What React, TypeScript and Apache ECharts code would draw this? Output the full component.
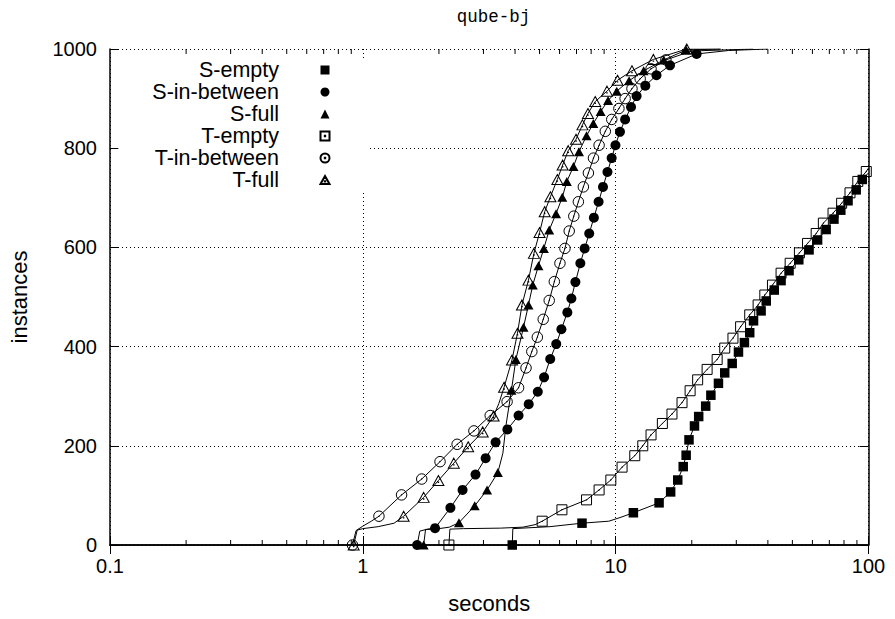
import { useEffect, useRef } from 'react';
import * as echarts from 'echarts';

type Pt = [number, number];

const FONT = 'Liberation Sans, Arial, Helvetica, sans-serif';

const seriesNames = ['S-empty', 'S-in-between', 'S-full', 'T-empty', 'T-in-between', 'T-full'];

// Minor ticks of the logarithmic seconds axis (2..9 in each decade)
const xMinorTicks = [
  0.2, 0.3, 0.4, 0.5, 0.6, 0.7, 0.8, 0.9,
  2, 3, 4, 5, 6, 7, 8, 9,
  20, 30, 40, 50, 60, 70, 80, 90,
];

// Marker points (seconds, instances) per configuration
const sEmptyPoints: Pt[] = [
  [3.9, 0], [7.36, 44], [11.75, 65], [14.85, 85], [16.5, 107], [17.6, 131], [18.5, 158],
  [19.0, 181], [19.5, 212], [20.5, 240], [21.3, 259], [22.7, 280], [23.8, 302], [25.5, 326],
  [27.0, 347], [28.9, 366], [30.6, 389], [32.3, 408], [33.9, 428], [35.1, 452], [37.6, 472],
  [39.4, 492], [42.4, 514], [45.1, 533], [48.5, 553], [53.0, 575], [58.2, 595], [62.9, 615],
  [68.0, 636], [73.0, 657], [77.7, 675], [83.0, 694], [89.4, 716], [94.5, 737],
];
const sInBetweenPoints: Pt[] = [
  [1.64, 0], [1.93, 34], [2.22, 75], [2.48, 111], [2.79, 142], [3.06, 175], [3.35, 207],
  [3.73, 233], [4.13, 261], [4.53, 284], [4.92, 309], [5.21, 338], [5.51, 375], [5.82, 405],
  [6.1, 435], [6.44, 469], [6.68, 497], [6.93, 530], [7.25, 568], [7.54, 598], [7.86, 628],
  [8.2, 660], [8.56, 692], [8.91, 722], [9.28, 752], [9.64, 780], [9.98, 806], [10.4, 833],
  [10.9, 858], [11.5, 883], [12.1, 905], [13.1, 926], [14.5, 947], [16.4, 967], [20.9, 990],
];
const sFullPoints: Pt[] = [
  [1.74, 0], [2.4, 45], [2.77, 79], [3.1, 111], [3.42, 146], [3.87, 312], [4.03, 374],
  [4.32, 439], [4.52, 484], [4.7, 524], [4.95, 563], [5.2, 598], [5.46, 635], [5.81, 668],
  [6.15, 701], [6.41, 733], [6.81, 763], [7.16, 793], [7.67, 825], [8.16, 850], [8.72, 874],
  [9.33, 896], [10.1, 915], [11.3, 936], [12.9, 956], [15.5, 978], [19.0, 998],
];
const tEmptyPoints: Pt[] = [
  [2.19, 0], [5.12, 48], [6.13, 71], [7.67, 91], [8.6, 111], [9.57, 131], [10.6, 157],
  [11.9, 180], [12.8, 200], [13.8, 222], [15.3, 245], [16.7, 264], [18.3, 287], [19.7, 311],
  [21.1, 333], [23.0, 354], [25.2, 374], [27.0, 397], [29.1, 417], [31.2, 440], [33.9, 464],
  [36.6, 484], [38.9, 504], [41.7, 524], [45.1, 548], [49.0, 568], [53.3, 589], [57.4, 608],
  [62.1, 628], [66.3, 649], [72.4, 669], [78.3, 689], [84.5, 710], [90.7, 733], [98.0, 753],
];
const tInBetweenPoints: Pt[] = [
  [0.91, 0], [1.158, 58], [1.423, 101], [1.71, 133], [2.02, 168], [2.36, 203], [2.75, 230],
  [3.19, 261], [3.72, 289], [4.13, 317], [4.42, 357], [4.66, 390], [4.9, 419], [5.17, 455],
  [5.46, 493], [5.72, 531], [6.02, 568], [6.3, 598], [6.55, 633], [6.83, 663], [7.12, 692],
  [7.45, 722], [7.8, 750], [8.17, 780], [8.6, 806], [9.1, 834], [9.65, 858], [10.3, 880],
  [10.9, 900], [11.6, 920], [12.5, 940], [13.8, 960], [15.8, 978],
];
const tFullPoints: Pt[] = [
  [0.92, 0], [1.45, 58], [1.74, 96], [1.99, 130], [2.29, 165], [2.61, 198], [2.98, 228],
  [3.29, 260], [3.62, 318], [3.89, 373], [4.09, 427], [4.26, 484], [4.52, 534], [4.75, 588],
  [5.0, 630], [5.24, 672], [5.52, 702], [5.88, 737], [6.17, 766], [6.49, 795], [6.97, 818],
  [7.39, 847], [7.77, 870], [8.3, 894], [9.24, 915], [10.17, 937], [11.6, 956], [14.1, 979],
  [19.1, 1000],
];

// Extra points of the smoothed curves between markers (jumps, plateaus, tails)
const sEmptyBends: Pt[] = [[3.92, 33], [5.5, 37], [9.4, 48], [10.5, 56], [100, 750]];
const sInBetweenBends: Pt[] = [[1.68, 28], [1.8, 32], [28, 997], [40, 1000]];
const sFullBends: Pt[] = [[1.77, 31], [2.0, 33], [2.2, 36], [3.58, 185], [3.68, 240], [26, 1000]];
const tEmptyBends: Pt[] = [[2.21, 32], [2.5, 33], [3.5, 34], [4.3, 36], [4.8, 41], [100, 760]];
const tInBetweenBends: Pt[] = [[0.94, 29], [1.0, 38], [1.08, 48], [20, 996], [35, 1000]];
const tFullBends: Pt[] = [[0.95, 30], [1.0, 33], [1.15, 37], [1.33, 44], [3.45, 285], [26, 1000]];

const markerSets: Pt[][] = [sEmptyPoints, sInBetweenPoints, sFullPoints, tEmptyPoints, tInBetweenPoints, tFullPoints];
const bendSets: Pt[][] = [sEmptyBends, sInBetweenBends, sFullBends, tEmptyBends, tInBetweenBends, tFullBends];

// Open symbols with a centre dot
const OPEN_SQUARE = 'path://M0,0H10V10H0Z M4.8,4.8H5.2V5.2H4.8Z';
const OPEN_CIRCLE = 'path://M0,5A5,5,0,1,1,10,5A5,5,0,1,1,0,5Z M4.8,4.8H5.2V5.2H4.8Z';
const OPEN_TRIANGLE = 'path://M5,0L10,9L0,9Z M4.8,5.8H5.2V6.2H4.8Z';

const markerStyles = [
  { symbol: 'rect', size: [9.5, 9.5], filled: true },
  { symbol: 'circle', size: [10, 10], filled: true },
  { symbol: 'triangle', size: [10, 9], filled: true },
  { symbol: OPEN_SQUARE, size: [10, 10], filled: false },
  { symbol: OPEN_CIRCLE, size: [10.5, 10.5], filled: false },
  { symbol: OPEN_TRIANGLE, size: [11, 10], filled: false },
];

function curveOf(points: Pt[], bends: Pt[]): Pt[] {
  return [...points, ...bends].sort((a, b) => a[1] - b[1] || a[0] - b[0]);
}

function buildOption() {
  const axisLine = { lineStyle: { color: '#000', width: 1.5 } };
  const axisTick = { inside: true, length: 9, lineStyle: { color: '#000', width: 1 } };
  const labelStyle = { color: '#000', fontSize: 20, fontFamily: FONT };
  const nameStyle = { color: '#000', fontSize: 22, fontFamily: FONT };
  const gridLine = { show: true, lineStyle: { type: [1, 3], color: '#000', width: 1 } };

  const curves = seriesNames.map((name, i) => ({
    name: `${name} curve`,
    type: 'line',
    data: curveOf(markerSets[i], bendSets[i]),
    showSymbol: false,
    symbol: 'none',
    lineStyle: { color: '#000', width: 1 },
    silent: true,
    z: 2,
  }));

  const markers = seriesNames.map((name, i) => {
    const m = markerStyles[i];
    return {
      name,
      type: 'scatter',
      data: markerSets[i],
      symbol: m.symbol,
      symbolSize: m.size,
      itemStyle: m.filled
        ? { color: '#000', opacity: 1 }
        : { color: 'rgba(0,0,0,0)', borderColor: '#000', borderWidth: 1, opacity: 1 },
      emphasis: { disabled: true },
      silent: true,
      z: 3,
    };
  });

  const minorTicks = {
    name: 'minor ticks',
    type: 'custom',
    data: xMinorTicks.map((v) => [v, 0]),
    silent: true,
    clip: false,
    z: 4,
    renderItem: (_params: any, api: any) => {
      const v = api.value(0);
      const b = api.coord([v, 0]);
      const t = api.coord([v, 1000]);
      const style = { stroke: '#000', lineWidth: 1 };
      return {
        type: 'group',
        children: [
          { type: 'line', shape: { x1: b[0], y1: b[1], x2: b[0], y2: b[1] - 5 }, style },
          { type: 'line', shape: { x1: t[0], y1: t[1], x2: t[0], y2: t[1] + 5 }, style },
        ],
      };
    },
  };

  return {
    animation: false,
    backgroundColor: '#fff',
    title: {
      text: 'qube-bj',
      left: 488.5,
      top: 3,
      textAlign: 'center',
      textStyle: { fontFamily: 'Liberation Mono, monospace', fontSize: 17.5, fontWeight: 'normal', color: '#000' },
    },
    grid: { left: 108.5, right: 26.5, top: 49, bottom: 74 },
    legend: {
      data: seriesNames,
      orient: 'vertical',
      align: 'right',
      right: 525,
      top: 58,
      padding: [1, 39.5, 0, 34],
      itemGap: 0,
      itemWidth: 9,
      itemHeight: 9,
      backgroundColor: '#fff',
      selectedMode: false,
      textStyle: { fontFamily: FONT, fontSize: 21.5, color: '#000', lineHeight: 21.7, padding: [0, 36.5, 0, 0] },
    },
    xAxis: [
      {
        type: 'log',
        logBase: 10,
        min: 0.1,
        max: 100,
        position: 'bottom',
        name: 'seconds',
        nameLocation: 'middle',
        nameGap: 47,
        nameTextStyle: nameStyle,
        axisLine,
        axisTick,
        axisLabel: { ...labelStyle, margin: 11 },
        splitLine: gridLine,
      },
      {
        type: 'log',
        logBase: 10,
        min: 0.1,
        max: 100,
        position: 'top',
        axisLine,
        axisTick,
        axisLabel: { show: false },
        splitLine: { show: false },
      },
    ],
    yAxis: [
      {
        type: 'value',
        min: 0,
        max: 1000,
        interval: 200,
        position: 'left',
        name: 'instances',
        nameLocation: 'middle',
        nameGap: 80,
        nameTextStyle: nameStyle,
        axisLine,
        axisTick,
        axisLabel: { ...labelStyle, margin: 13, formatter: (v: number) => String(v) },
        splitLine: gridLine,
      },
      {
        type: 'value',
        min: 0,
        max: 1000,
        interval: 200,
        position: 'right',
        axisLine,
        axisTick,
        axisLabel: { show: false },
        splitLine: { show: false },
      },
    ],
    series: [...curves, ...markers, minorTicks],
  };
}

export default function App() {
  const ref = useRef<HTMLDivElement>(null);
  useEffect(() => {
    if (!ref.current) return;
    const chart = echarts.init(ref.current, undefined, { renderer: 'svg' });
    chart.setOption(buildOption() as any);
    return () => chart.dispose();
  }, []);
  return (
    <div
      ref={ref}
      style={{ position: 'absolute', left: 0, top: 0, width: 895, height: 619, background: '#fff' }}
    />
  );
}
